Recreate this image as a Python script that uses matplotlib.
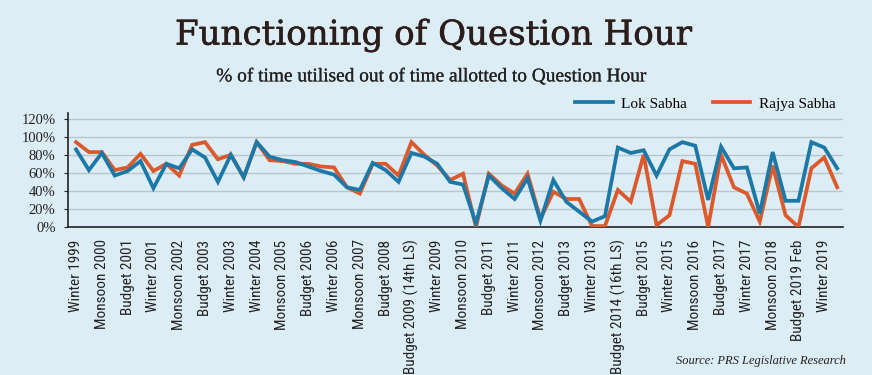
import os
import matplotlib
matplotlib.use("Agg")
import matplotlib.pyplot as plt
import matplotlib.patheffects as pe
from matplotlib import font_manager
from matplotlib.font_manager import FontProperties

sessions = [
    "Winter 1999", "Budget 2000", "Monsoon 2000", "Winter 2000", "Budget 2001", "Monsoon 2001",
    "Winter 2001", "Budget 2002", "Monsoon 2002", "Winter 2002", "Budget 2003", "Monsoon 2003",
    "Winter 2003", "Budget 2004", "Winter 2004", "Budget 2005", "Monsoon 2005", "Winter 2005",
    "Budget 2006", "Monsoon 2006", "Winter 2006", "Budget 2007", "Monsoon 2007", "Winter 2007",
    "Budget 2008", "Winter 2008", "Budget 2009 (14th LS)", "Budget 2009 (15th LS)", "Winter 2009",
    "Budget 2010", "Monsoon 2010", "Winter 2010", "Budget 2011", "Monsoon 2011", "Winter 2011",
    "Budget 2012", "Monsoon 2012", "Winter 2012", "Budget 2013", "Monsoon 2013", "Winter 2013",
    "Budget 2014 (15th LS)", "Budget 2014 (16th LS)", "Winter 2014", "Budget 2015", "Monsoon 2015",
    "Winter 2015", "Budget 2016", "Monsoon 2016", "Winter 2016", "Budget 2017", "Monsoon 2017",
    "Winter 2017", "Budget 2018", "Monsoon 2018", "Winter 2018", "Budget 2019 Feb",
    "Budget 2019 (17th LS)", "Winter 2019", "Budget 2020",
]

lok_sabha = [
    86, 63, 82, 57, 62, 73, 43, 70, 65, 86, 77, 50,
    80, 55, 94, 78, 74, 72, 67, 62, 58, 44, 41, 71,
    63, 50, 82, 78, 70, 50, 47, 4, 57, 43, 31, 54,
    7, 52, 28, 17, 6, 12, 88, 82, 85, 57, 86, 94,
    90, 30, 89, 65, 66, 15, 83, 29, 29, 94, 88, 65,
]

rajya_sabha = [
    94, 83, 83, 63, 66, 81, 62, 70, 57, 91, 94, 75,
    80, 55, 94, 74, 73, 70, 70, 67, 66, 44, 37, 70,
    70, 57, 94, 80, 68, 52, 59, 0, 59, 46, 37, 59,
    9, 39, 31, 31, 1, 1, 41, 28, 80, 2, 13, 73,
    70, 0, 80, 44, 37, 6, 68, 13, 0, 65, 77, 44,
]

BG = "#dcedf5"
BLUE = "#1b78a7"
RED = "#dc592b"
serif = "Liberation Serif"


def find_condensed():
    found = []
    for f in font_manager.fontManager.ttflist:
        fn = os.path.basename(f.fname).lower()
        if "mono" in fn or "serif" in fn or "bold" in fn or "italic" in fn or "oblique" in fn:
            continue
        if f.style != "normal":
            continue
        if "narrow" in fn or "condensed" in fn or f.stretch in ("condensed", "semi-condensed"):
            found.append(f.fname)
    order = ["liberationsansnarrow", "robotocondensed", "opensans", "dejavusanscondensed"]
    def rank(p):
        b = os.path.basename(p).lower().replace("-", "").replace("_", "")
        for i, k in enumerate(order):
            if b.startswith(k):
                return i
        return len(order)
    found.sort(key=rank)
    return found[0] if found else None


fig = plt.figure(figsize=(8.72, 3.75), dpi=100, facecolor=BG)
renderer = fig.canvas.get_renderer()


def fit(text, target_px, **kw):
    fp = FontProperties(size=10, **kw)
    w, h, d = renderer.get_text_width_height_descent(text, fp, ismath=False)
    return 10.0 * target_px / w


cond = find_condensed()
if cond:
    tick_kw = {"fname": cond}
else:
    tick_kw = {"family": "Liberation Sans"}
tick_size = fit("Winter 1999", 72, **tick_kw)
tick_fp = FontProperties(size=tick_size, **tick_kw)

ax = fig.add_axes([0.078, 0.3947, 0.889, 0.3033], facecolor=BG)

x = list(range(len(sessions)))
ax.plot(x, rajya_sabha, color=RED, lw=2.7, solid_joinstyle="miter", label="Rajya Sabha", zorder=3)
ax.plot(x, lok_sabha, color=BLUE, lw=2.7, solid_joinstyle="miter", label="Lok Sabha", zorder=4)

ax.set_xlim(-0.62, 59.47)
ax.set_ylim(0, 126)
yt = [0, 20, 40, 60, 80, 100, 120]
ax.set_yticks(yt)
ax.set_yticklabels([f"{v}%" for v in yt], fontfamily=serif, fontsize=10.5, color="#222222")
ax.yaxis.grid(True, color="#b9c6cb", lw=1.0)
ax.set_axisbelow(True)

ax.set_xticks(x[::2])
ax.set_xticklabels(sessions[::2], rotation=90, fontproperties=tick_fp, color="#222222")
ax.tick_params(axis="x", length=0, pad=9)
ax.tick_params(axis="y", length=3, pad=6, color="#222222")

for s in ["top", "right"]:
    ax.spines[s].set_visible(False)
for s in ["left", "bottom"]:
    ax.spines[s].set_color("#222222")
    ax.spines[s].set_linewidth(1.2)

handles, labels = ax.get_legend_handles_labels()
ax.legend(handles[::-1], labels[::-1], ncol=2, frameon=False, loc="lower right",
          bbox_to_anchor=(0.998, 0.97), prop={"family": serif, "size": 11},
          handlelength=2.45, handletextpad=0.55, columnspacing=1.7, borderaxespad=0)

title = "Functioning of Question Hour"
title_size = fit(title, 518, family="DejaVu Serif")
fig.text(0.4977, 0.905, title, ha="center", va="center",
         fontfamily="DejaVu Serif", fontsize=title_size, color="#2b1d1a",
         path_effects=[pe.withStroke(linewidth=0.4, foreground="#2b1d1a")])

sub = "% of time utilised out of time allotted to Question Hour"
sub_size = fit(sub, 430, family=serif)
fig.text(0.4955, 0.795, sub, ha="center", va="center",
         fontfamily=serif, fontsize=sub_size, color="#222222",
         path_effects=[pe.withStroke(linewidth=0.15, foreground="#222222")])

src = "Source: PRS Legislative Research"
src_size = fit(src, 170, family=serif, style="italic")
fig.text(0.97, 0.037, src, ha="right", va="center",
         fontfamily=serif, fontstyle="italic", fontsize=src_size, color="#222222")

fig.savefig("out.png", dpi=100, facecolor=BG)
